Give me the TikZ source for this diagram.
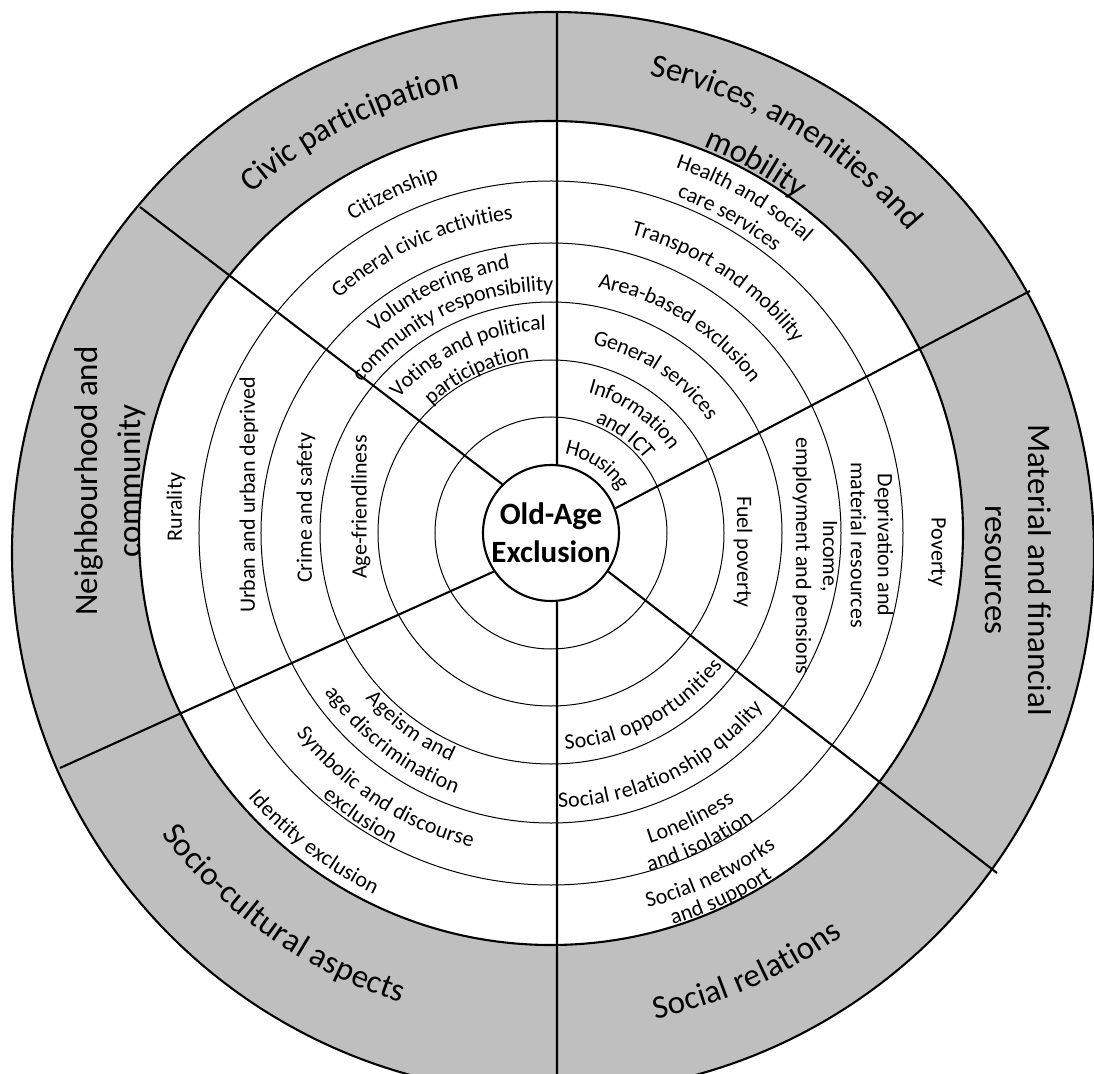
\documentclass[tikz,border=0pt]{standalone}
\usepackage{fontspec}
\setmainfont{Carlito}
\usetikzlibrary{decorations.text}

\newcommand\ringfont{\fontsize{22}{27}\selectfont}
\newcommand\bandfont{\fontsize{33}{43}\selectfont}

\tikzset{
	ring/.style={line width=1pt},
	rim/.style={line width=2.1pt},
	ringtext/.style={decorate, decoration={text along path, text align=center, raise=-7pt, text={|\ringfont|#1}}},
	bandtext/.style={decorate, decoration={text along path, text align=center, raise=-10pt, text={|\bandfont|#1}}},
	flat/.style={font=\ringfont, align=center},
	bandflat/.style={font=\bandfont, align=center},
}

\begin{document}
\begin{tikzpicture}[x=1pt, y=1pt]

		% Frame of the picture
		\useasboundingbox (-551,-540) rectangle (543,533);
		\clip (-551,-540) rectangle (543,533);
		\fill[white] (-551,-540) rectangle (543,533);

		% Grey band and white disc
		\filldraw[rim, fill=black!25] (2,-20) circle[radius=541];
		\filldraw[rim, fill=white] (0,0) circle[radius=412];

		% Define the rings
		\foreach \r in {116,173,231,290,352}
			\draw[ring] (0,0) circle[radius=\r];

		% Define the centre
		\node[rim, draw, circle, fill=white, minimum size=136, inner sep=0pt] (core) at (0,0) {};
		\node[font=\bfseries\fontsize{31}{38}\selectfont, align=center] (title) at (0,0) {Old-Age\\Exclusion};

		% Define the spokes
		\coordinate (nTop) at (6,521);
		\coordinate (nUpRight) at (479,242);
		\coordinate (nDownRight) at (446,-340);
		\coordinate (nBottom) at (6,-545);
		\coordinate (nDownLeft) at (-491,-235);
		\coordinate (nUpLeft) at (-411,326);
		\draw[rim] (core.85) -- (nTop);
		\draw[rim] (core.21) -- (nUpRight);
		\draw[rim] (core.-34) -- (nDownRight);
		\draw[rim] (core.275) -- (nBottom);
		\draw[rim] (core.214) -- (nDownLeft);
		\draw[rim] (core.135) -- (nUpLeft);

		% Add labels for the domains
		\path[bandtext={Civic participation}] (176.5:463) arc[start angle=176.5, end angle=56.5, radius=463];
		\path[bandtext={Services, amenities and}] (119:478) arc[start angle=119, end angle=-1, radius=478];
		\path[bandtext={mobility}] (121:425) arc[start angle=121, end angle=1, radius=425];
		\path[bandtext={Socio-cultural aspects}] (175:483) arc[start angle=175, end angle=295, radius=483];
		\path[bandtext={Social relations}] (-126:487) arc[start angle=-126, end angle=-6, radius=487];
		\node[bandflat, rotate=90] (neighbourhood) at (-441,52) {Neighbourhood and\\community};
		\node[bandflat, rotate=-90] (material) at (467,-37) {Material and financial\\resources};

		% Add labels for civic participation
		\path[ringtext={Citizenship}] (175:377) arc[start angle=175, end angle=55, radius=377];
		\path[ringtext={General civic activities}] (174.5:323) arc[start angle=174.5, end angle=54.5, radius=323];
		\path[ringtext={Volunteering and}] (175:274) arc[start angle=175, end angle=55, radius=274];
		\path[ringtext={community responsibility}] (175.5:249) arc[start angle=175.5, end angle=55.5, radius=249];
		\path[ringtext={Voting and political}] (175:210) arc[start angle=175, end angle=55, radius=210];
		\path[ringtext={participation}] (175:182) arc[start angle=175, end angle=55, radius=182];

		% Add labels for services, amenities and mobility
		\path[ringtext={Health and social}] (120:393) arc[start angle=120, end angle=0, radius=393];
		\path[ringtext={care services}] (120.5:366) arc[start angle=120.5, end angle=0.5, radius=366];
		\path[ringtext={Transport and mobility}] (116.5:316) arc[start angle=116.5, end angle=-3.5, radius=316];
		\path[ringtext={Area-based exclusion}] (118:257) arc[start angle=118, end angle=-2, radius=257];
		\path[ringtext={General services}] (116.5:200) arc[start angle=116.5, end angle=-3.5, radius=200];
		\path[ringtext={Information}] (115:152) arc[start angle=115, end angle=-5, radius=152];
		\path[ringtext={and ICT}] (113:126) arc[start angle=113, end angle=-7, radius=126];
		\path[ringtext={Housing}] (116:87) arc[start angle=116, end angle=-4, radius=87];

		% Add labels for material and financial resources
		\node[flat, rotate=-90] (fuel) at (192,-19) {Fuel poverty};
		\node[flat, rotate=-90] (income) at (264,-23) {Income,\\employment and pensions};
		\node[flat, rotate=-90] (deprivation) at (321,-12) {Deprivation and\\material resources};
		\node[flat, rotate=-90] (poverty) at (386,-19) {Poverty};

		% Add labels for social relations
		\path[ringtext={Social opportunities}] (-122:210) arc[start angle=-122, end angle=-2, radius=210];
		\path[ringtext={Social relationship quality}] (-124:268) arc[start angle=-124, end angle=-4, radius=268];
		\path[ringtext={Loneliness}] (-124:319) arc[start angle=-124, end angle=-4, radius=319];
		\path[ringtext={and isolation}] (-124.3:345) arc[start angle=-124.3, end angle=-4.3, radius=345];
		\path[ringtext={Social networks}] (-125:380) arc[start angle=-125, end angle=-5, radius=380];
		\path[ringtext={and support}] (-125:403) arc[start angle=-125, end angle=-5, radius=403];

		% Add labels for socio-cultural aspects
		\path[ringtext={Ageism and}] (174:242) arc[start angle=174, end angle=294, radius=242];
		\path[ringtext={age discrimination}] (172.5:270) arc[start angle=172.5, end angle=292.5, radius=270];
		\path[ringtext={Symbolic and discourse}] (177:317) arc[start angle=177, end angle=297, radius=317];
		\path[ringtext={exclusion}] (176:342) arc[start angle=176, end angle=296, radius=342];
		\path[ringtext={Identity exclusion}] (172.5:395) arc[start angle=172.5, end angle=292.5, radius=395];

		% Add labels for neighbourhood and community
		\node[flat, rotate=90] (rurality) at (-375,26) {Rurality};
		\node[flat, rotate=90] (urban) at (-302,38) {Urban and urban deprived};
		\node[flat, rotate=90] (crime) at (-245,25) {Crime and safety};
		\node[flat, rotate=90] (agefriendly) at (-190,26) {Age-friendliness};

	\end{tikzpicture}
\end{document}
